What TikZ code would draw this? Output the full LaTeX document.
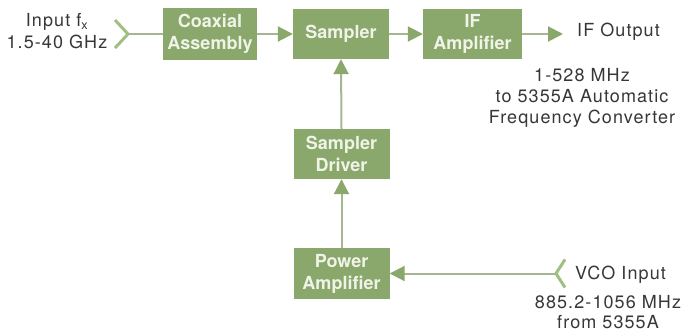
\documentclass[tikz,border=0pt]{standalone}
\usepackage{fontspec}
\setmainfont{TeX Gyre Heros}
\usetikzlibrary{arrows.meta}
\definecolor{boxgreen}{RGB}{138,167,108}
\definecolor{linegreen}{RGB}{165,182,145}
\definecolor{chevgreen}{RGB}{160,192,130}
\definecolor{txtgray}{RGB}{55,55,55}
\definecolor{boxtxt}{RGB}{240,244,232}
\begin{document}
\begin{tikzpicture}[x=1pt,y=-1pt,
  block/.style={fill=boxgreen, draw=none, minimum width=96pt, minimum height=50pt, inner sep=0pt, align=center, text=boxtxt, font=\fontsize{18}{22}\selectfont\bfseries},
  txt/.style={text=txtgray, inner sep=0pt, align=center, font=\fontsize{18}{21}\selectfont\addfontfeatures{LetterSpace=6}},
  conn/.style={draw=linegreen, line width=2pt},
  arr/.style={conn, -{Triangle[length=15pt,width=15pt,color=boxgreen]}},
  chev/.style={draw=chevgreen, line width=3pt, line join=miter}]
\fill[white] (0,0) rectangle (693,332);
\useasboundingbox (0,0) rectangle (693,332);
% blocks
\node[block, minimum width=94pt, minimum height=52pt] (coax) at (210,34) {Coaxial\\Assembly};
\node[block] (samp) at (341,34) {Sampler};
\node[block, minimum width=99pt] (ifamp) at (472.5,34) {IF\\Amplifier};
\node[block] (drv) at (341.5,154) {Sampler\\Driver};
\node[block, minimum height=51pt] (pamp) at (341.5,273.5) {Power\\Amplifier};
% free ends
\coordinate (inchev) at (128,34);
\coordinate (ifout) at (563,34);
\coordinate (vcochev) at (556,273.5);
% connectors
\draw[chev] ([shift={(-13,-14)}]inchev) -- (inchev) -- ([shift={(-13,14)}]inchev);
\draw[conn] (inchev) -- (coax.west);
\draw[arr] (coax.east) -- (samp.west);
\draw[arr] (samp.east) -- (ifamp.west);
\draw[arr] (ifamp.east) -- (ifout);
\draw[arr] (drv.north) -- (samp.south);
\draw[arr] (pamp.north) -- (drv.south);
\draw[chev] ([shift={(9,-14)}]vcochev) -- (vcochev) -- ([shift={(9,14)}]vcochev);
\draw[arr] (vcochev) -- (vcochev -| pamp.east);
% labels (base = baseline of last line)
\node[txt, anchor=base] (inlbl) at (57,48) {Input f\textsubscript{x}\\1.5-40 GHz};
\node[txt, anchor=base west] (iflbl) at (577,36) {IF Output};
\node[txt, anchor=base] (iffreq) at (582,123.5) {1-528 MHz\\to 5355A Automatic\\Frequency Converter};
\node[txt, anchor=base west] (vcolbl) at (575,279.5) {VCO Input};
\node[txt, anchor=base, font=\fontsize{18}{20}\selectfont\addfontfeatures{LetterSpace=6}] (vcofreq) at (608,328.5) {885.2-1056 MHz\\from 5355A};
\end{tikzpicture}
\end{document}
